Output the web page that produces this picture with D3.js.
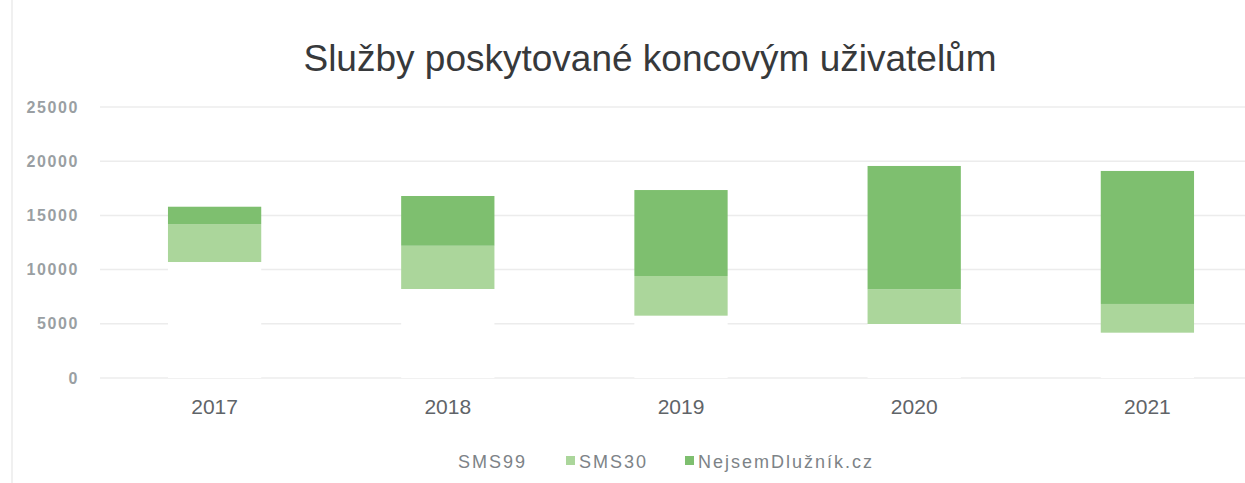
<!DOCTYPE html>
<html>
<head>
<meta charset="utf-8">
<script src="https://cdn.jsdelivr.net/npm/d3@7"></script>
<style>
  body { margin: 0; background: #fff; }
  text { font-family: "Liberation Sans", Arial, sans-serif; }
</style>
</head>
<body>
<svg id="chart"></svg>
<script>
/******** Data ********/
var years = ["2017", "2018", "2019", "2020", "2021"];
var sms99 = [10700, 8210, 5750, 4980, 4180];
var sms30 = [3500, 3990, 3660, 3200, 2650];
var nejsem = [1600, 4590, 7930, 11380, 12270];
var seriesNames = ["SMS99", "SMS30", "NejsemDlužník.cz"];
var yTicks = [0, 5000, 10000, 15000, 20000, 25000];

var width = 1245, height = 483;
var colors = ["#ffffff", "#abd69b", "#7ebf6f"];

var rows = years.map((y, i) => ({ year: y, SMS99: sms99[i], SMS30: sms30[i], "NejsemDlužník.cz": nejsem[i] }));
var stacked = d3.stack().keys(seriesNames)(rows);

var svg = d3.select("#chart").attr("width", width).attr("height", height);

// faint frame line on the left
svg.append("line")
  .attr("x1", 12).attr("x2", 12).attr("y1", 0).attr("y2", height)
  .attr("stroke", "#f0f0f0").attr("stroke-width", 2);

/******** Scales ********/
var x = d3.scaleBand().domain(years).range([98, 1264]).paddingInner(0.6).paddingOuter(0.3);
var y = d3.scaleLinear().domain([0, 25000]).range([378, 107]);

// gridlines
svg.append("g").selectAll("line")
  .data(yTicks)
  .join("line")
  .attr("x1", 100).attr("x2", width)
  .attr("y1", d => y(d)).attr("y2", d => y(d))
  .attr("stroke", "#ececec").attr("stroke-width", 1.5);

// y labels
var yAxis = d3.axisLeft(y).tickValues(yTicks).tickFormat(d3.format("d")).tickSize(0).tickPadding(0);
var yg = svg.append("g").attr("transform", "translate(79,0)").call(yAxis);
yg.select(".domain").remove();
yg.selectAll("text")
  .attr("fill", "#9a9fa3")
  .style("font-size", "16px")
  .style("font-weight", "bold")
  .style("letter-spacing", "1.6px");

/******** Bars ********/
svg.append("g").selectAll("g")
  .data(stacked)
  .join("g")
  .attr("fill", (d, i) => colors[i])
  .selectAll("rect")
  .data(d => d)
  .join("rect")
  .attr("x", d => x(d.data.year))
  .attr("width", x.bandwidth())
  .attr("y", d => y(d[1]))
  .attr("height", d => y(d[0]) - y(d[1]));

// x labels
var xAxis = d3.axisBottom(x).tickSize(0).tickPadding(0);
var xg = svg.append("g").attr("transform", "translate(0,398)").call(xAxis);
xg.select(".domain").remove();
xg.selectAll("text")
  .attr("fill", "#5f6468")
  .attr("dy", "0.75em")
  .style("font-size", "21px");

/******** Title ********/
svg.append("text")
  .text("Služby poskytované koncovým uživatelům")
  .attr("x", 650).attr("y", 71)
  .attr("text-anchor", "middle")
  .attr("fill", "#37393b")
  .style("font-size", "37px");

/******** Legend ********/
var legendX = [458, 566, 685];
var legend = svg.append("g").attr("transform", "translate(0,462)");
var items = legend.selectAll("g").data(seriesNames).join("g")
  .attr("transform", (d, i) => "translate(" + legendX[i] + ",0)");
items.append("rect")
  .attr("x", 0).attr("y", -6).attr("width", 9).attr("height", 9)
  .attr("fill", (d, i) => colors[i]);
items.append("text")
  .text(d => d)
  .attr("x", (d, i) => i === 0 ? 0 : 13)
  .attr("dy", "0.35em")
  .attr("fill", "#7d8387")
  .style("font-size", "18px")
  .style("letter-spacing", "2px");
</script>
</body>
</html>
